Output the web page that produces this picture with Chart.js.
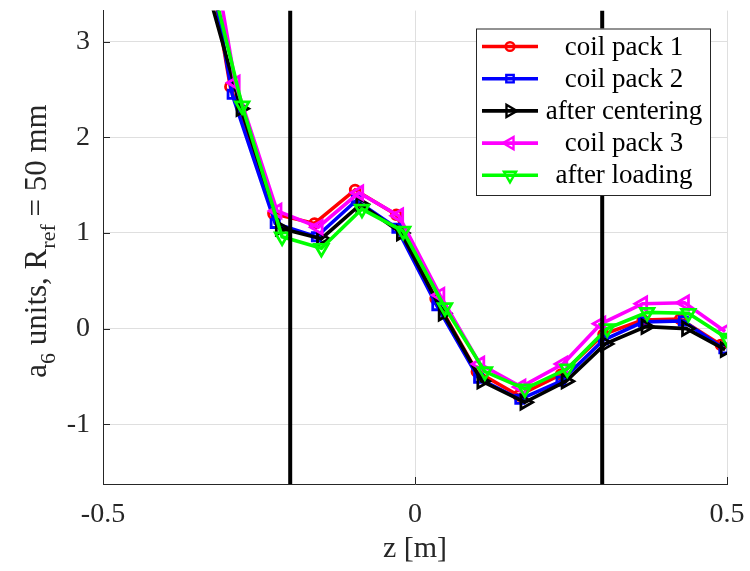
<!DOCTYPE html>
<html>
<head>
<meta charset="utf-8">
<script src="https://cdn.jsdelivr.net/npm/chart.js@4.4.0/dist/chart.umd.min.js"></script>
<style>
  html, body { margin: 0; padding: 0; background: #fff; }
  #wrap { width: 750px; height: 571px; }
</style>
</head>
<body>
<div id="wrap"><canvas id="a6Chart" width="750" height="571"></canvas></div>
<script>
// a6 harmonic along the magnet, one curve per assembly step
const seriesNames = ["coil pack 1", "coil pack 2", "after centering", "coil pack 3", "after loading"];

const zPack1 = [-0.362, -0.296, -0.227, -0.161, -0.096, -0.030, 0.033, 0.099, 0.166, 0.234, 0.302, 0.365, 0.425, 0.490];
const a6Pack1 = [5.05, 2.53, 1.20, 1.10, 1.45, 1.19, 0.31, -0.45, -0.70, -0.48, -0.06, 0.09, 0.10, -0.17];

const zPack2 = [-0.359, -0.293, -0.224, -0.158, -0.094, -0.029, 0.035, 0.102, 0.168, 0.234, 0.302, 0.366, 0.430, 0.495];
const a6Pack2 = [4.96, 2.45, 1.10, 0.96, 1.34, 1.05, 0.24, -0.52, -0.74, -0.55, -0.12, 0.07, 0.08, -0.21];

const zCentered = [-0.350, -0.279, -0.216, -0.150, -0.087, -0.022, 0.045, 0.107, 0.176, 0.242, 0.305, 0.370, 0.435, 0.497];
const a6Centered = [3.96, 2.30, 1.05, 0.94, 1.30, 1.00, 0.16, -0.55, -0.77, -0.55, -0.16, 0.02, 0.00, -0.22];

const zPack3 = [-0.355, -0.288, -0.221, -0.155, -0.090, -0.026, 0.040, 0.104, 0.170, 0.237, 0.298, 0.365, 0.432, 0.497];
const a6Pack3 = [5.10, 2.57, 1.23, 1.06, 1.42, 1.18, 0.35, -0.37, -0.61, -0.37, 0.05, 0.26, 0.27, -0.03];

const zLoaded = [-0.350, -0.277, -0.213, -0.150, -0.085, -0.019, 0.048, 0.112, 0.176, 0.244, 0.308, 0.372, 0.438, 0.500];
const a6Loaded = [4.28, 2.33, 0.96, 0.84, 1.25, 1.02, 0.22, -0.45, -0.63, -0.42, 0.00, 0.17, 0.16, -0.10];

const zTicks = [-0.5, 0, 0.5];
const a6Ticks = [-1, 0, 1, 2, 3];
const zRange = [-0.5, 0.5];
const a6Range = [-1.625, 3.325];
const boundaryZ = [-0.2, 0.3];

const serif = "'Liberation Serif', 'Times New Roman', serif";
const ink = "#262626";

function toPoints(zs, vals) {
  return zs.map((z, i) => ({ x: z, y: vals[i] }));
}

// matlab-like marker look for each curve
const looks = [
  { color: "#ff0000", style: "circle", radius: 4.8, rotation: 0 },
  { color: "#0000ff", style: "rect", radius: 5.8, rotation: 0 },
  { color: "#000000", style: "triangle", radius: 7.8, rotation: 90 },
  { color: "#ff00ff", style: "triangle", radius: 7.8, rotation: 270 },
  { color: "#00ff00", style: "triangle", radius: 7.8, rotation: 180 },
];
const curves = [
  toPoints(zPack1, a6Pack1),
  toPoints(zPack2, a6Pack2),
  toPoints(zCentered, a6Centered),
  toPoints(zPack3, a6Pack3),
  toPoints(zLoaded, a6Loaded),
];

const datasets = curves.map((pts, i) => ({
  label: seriesNames[i],
  data: pts,
  showLine: true,
  borderColor: looks[i].color,
  borderWidth: 3.6,
  pointStyle: looks[i].style,
  pointRadius: looks[i].radius,
  pointRotation: looks[i].rotation,
  pointBorderColor: looks[i].color,
  pointBackgroundColor: "rgba(0,0,0,0)",
  pointBorderWidth: 2.8,
  order: curves.length - i,
}));

// the two vertical boundary lines
boundaryZ.forEach((z) => {
  datasets.push({
    label: "",
    data: [{ x: z, y: a6Range[0] }, { x: z, y: a6Range[1] }],
    showLine: true,
    borderColor: "#000000",
    borderWidth: 4,
    pointRadius: 0,
    order: -1,
  });
});

function noOverflow(s) {
  s.paddingLeft = 0;
  s.paddingRight = 0;
  s.paddingTop = 0;
  s.paddingBottom = 0;
}

const decor = {
  id: "decor",
  afterDraw(chart) {
    const ctx = chart.ctx;
    const area = chart.chartArea;
    const xs = chart.scales.x;
    const ys = chart.scales.y;
    ctx.save();

    // inward tick marks
    ctx.strokeStyle = ink;
    ctx.lineWidth = 1;
    ctx.beginPath();
    zTicks.forEach((v) => {
      const px = Math.round(xs.getPixelForValue(v)) + 0.5;
      ctx.moveTo(px, area.bottom);
      ctx.lineTo(px, area.bottom - 7);
    });
    a6Ticks.forEach((v) => {
      const py = Math.round(ys.getPixelForValue(v)) + 0.5;
      ctx.moveTo(area.left, py);
      ctx.lineTo(area.left + 7, py);
    });
    ctx.stroke();

    // x title
    ctx.fillStyle = ink;
    ctx.font = "30px " + serif;
    ctx.textAlign = "center";
    ctx.textBaseline = "middle";
    ctx.fillText("z [m]", (area.left + area.right) / 2, 549);

    // y title with subscripts
    const parts = [
      ["a", false], ["6", true], [" units, R", false], ["ref", true], [" = 50 mm", false],
    ];
    const big = "31px " + serif;
    const small = "22px " + serif;
    let total = 0;
    parts.forEach(([t, sub]) => { ctx.font = sub ? small : big; total += ctx.measureText(t).width; });
    ctx.translate(46, 241);
    ctx.rotate(-Math.PI / 2);
    ctx.textAlign = "left";
    ctx.textBaseline = "alphabetic";
    let cx = -total / 2;
    parts.forEach(([t, sub]) => {
      ctx.font = sub ? small : big;
      ctx.fillText(t, cx, sub ? 9 : 0);
      cx += ctx.measureText(t).width;
    });
    ctx.setTransform(1, 0, 0, 1, 0, 0);

    // legend box
    const box = { x: 476, y: 28.5, w: 234, h: 166.5 };
    ctx.fillStyle = "#ffffff";
    ctx.fillRect(box.x, box.y, box.w, box.h);
    ctx.strokeStyle = ink;
    ctx.lineWidth = 1;
    ctx.strokeRect(box.x + 0.5, box.y + 0.5, box.w, box.h);
    ctx.font = "27px " + serif;
    ctx.textAlign = "center";
    ctx.textBaseline = "middle";
    seriesNames.forEach((name, i) => {
      const y = 46.5 + i * 32.2;
      const lk = looks[i];
      ctx.strokeStyle = lk.color;
      ctx.lineWidth = 3.6;
      ctx.beginPath();
      ctx.moveTo(482, y);
      ctx.lineTo(538, y);
      ctx.stroke();
      ctx.fillStyle = "rgba(0,0,0,0)";
      ctx.lineWidth = 2.4;
      Chart.helpers.drawPoint(ctx, {
        pointStyle: lk.style, radius: lk.radius * 0.9, rotation: lk.rotation, borderWidth: 2.4,
      }, 510, y);
      ctx.fillStyle = "#000000";
      ctx.fillText(name, 624, y + 1);
    });
    ctx.restore();
  },
};

new Chart(document.getElementById("a6Chart"), {
  type: "scatter",
  data: { datasets: datasets },
  options: {
    responsive: false,
    animation: false,
    devicePixelRatio: 1,
    layout: { padding: { top: 10, right: 23, left: 0, bottom: 0 } },
    plugins: { legend: { display: false }, tooltip: { enabled: false } },
    elements: { line: { tension: 0 } },
    scales: {
      x: {
        type: "linear",
        min: zRange[0],
        max: zRange[1],
        afterBuildTicks: (s) => { s.ticks = zTicks.map((v) => ({ value: v })); },
        afterFit: (s) => { s.height = 87; noOverflow(s); },
        grid: { color: "#dfdfdf", lineWidth: 1, drawTicks: false },
        border: { display: true, color: ink, width: 1 },
        ticks: {
          padding: 14,
          color: ink,
          font: { family: serif, size: 28 },
          callback: (v) => String(v),
        },
      },
      y: {
        type: "linear",
        min: a6Range[0],
        max: a6Range[1],
        afterBuildTicks: (s) => { s.ticks = a6Ticks.map((v) => ({ value: v })); },
        afterFit: (s) => { s.width = 103; noOverflow(s); },
        grid: { color: "#dfdfdf", lineWidth: 1, drawTicks: false },
        border: { display: true, color: ink, width: 1 },
        ticks: {
          padding: 13,
          color: ink,
          font: { family: serif, size: 28 },
          callback: (v) => String(v),
        },
      },
    },
  },
  plugins: [decor],
});
</script>
</body>
</html>
